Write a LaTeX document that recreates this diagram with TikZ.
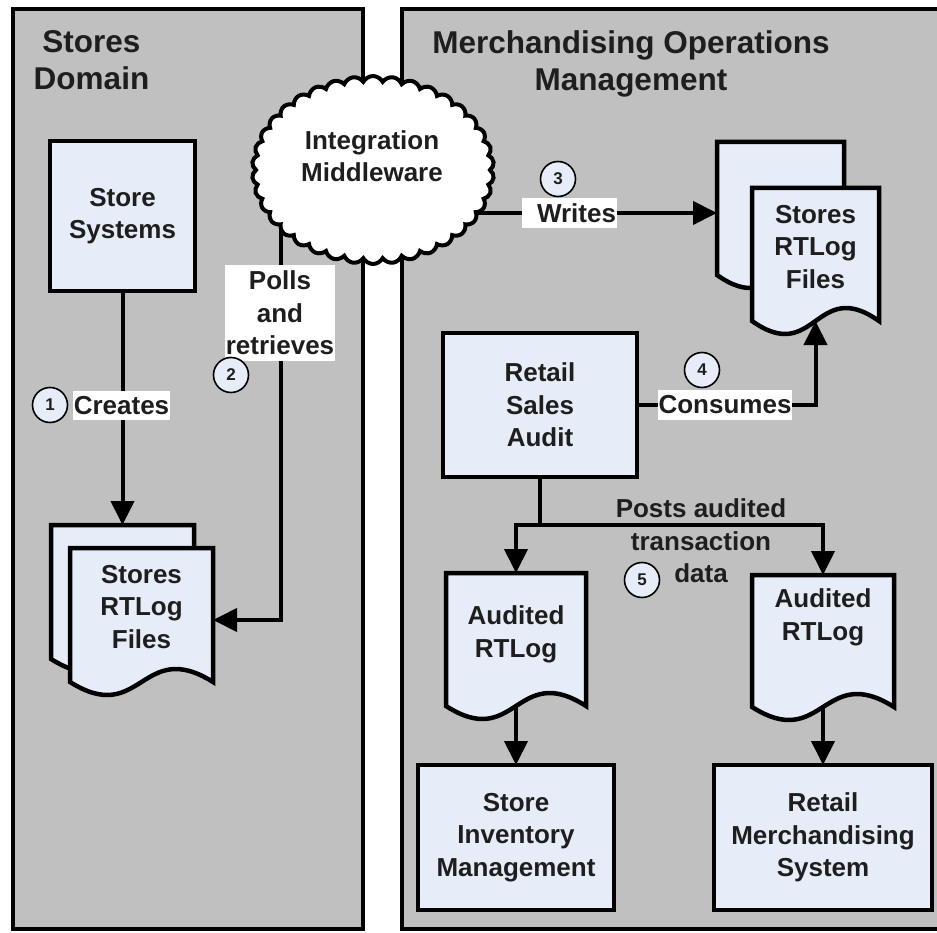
\documentclass[tikz,border=0pt]{standalone}
\usepackage{fontspec}
\setmainfont{Liberation Sans}
\usetikzlibrary{shapes.symbols,arrows.meta,calc}
\definecolor{panelgray}{HTML}{C0C0C0}
\definecolor{boxfill}{HTML}{E7EDF8}
\definecolor{txt}{HTML}{1E1E1E}
\pgfdeclarelayer{back}
\pgfdeclarelayer{mid}
\pgfsetlayers{back,mid,main}
\newcommand{\myBody}{\fontsize{26}{32.5}\selectfont\bfseries}
\newcommand{\myTitle}{\fontsize{31.5}{37}\selectfont\bfseries}
\newcommand{\myNum}{\fontsize{17}{20}\selectfont\bfseries}
\newcommand{\drawdoc}[1]{\draw[docshape] (#1.north west) -- (#1.north east) -- (#1.south east)
  .. controls ($(#1.south)+(0,-45)$) and ($(#1.south)+(0,45)$) .. (#1.south west) -- cycle;}
\begin{document}
\begin{tikzpicture}[x=1pt,y=-1pt,
  panel/.style={draw=black, line width=4.5pt, fill=panelgray},
  box/.style={draw=black, line width=4.5pt, fill=boxfill, inner sep=0pt, outer sep=0pt, font=\myBody, align=center, text=txt},
  docgeo/.style={inner sep=0pt, outer sep=0pt},
  docshape/.style={draw=black, line width=4.5pt, fill=boxfill, line join=miter},
  doctext/.style={font=\myBody, align=center, text=txt, inner sep=0pt},
  conn/.style={line width=4pt, draw=black},
  arr/.style={conn, -{Triangle[length=24pt,width=23pt]}},
  lbl/.style={fill=white, font=\myBody, text=txt, inner xsep=1pt, inner ysep=5.5pt, align=center},
  num/.style={circle, draw=black, line width=1.6pt, fill=boxfill, minimum size=35pt, inner sep=0pt, font=\myNum, text=txt},
  titletext/.style={font=\myTitle, align=center, text=txt, inner sep=0pt}]
\useasboundingbox (0,0) rectangle (937,933);
\begin{pgfonlayer}{back}
  \path[panel] (13,9) rectangle (363,929);
  \path[panel] (402,9) rectangle (947,929);
\end{pgfonlayer}
% titles
\node[titletext] (t1) at (91.5,60.2) {Stores\\Domain};
\node[titletext] (t2) at (631,63.5) {Merchandising Operations\\Management};
% cloud
\node[cloud, draw=black, line width=4pt, fill=white, cloud puffs=38, cloud puff arc=125,
  cloud ignores aspect, minimum width=242pt, minimum height=188pt, inner sep=0pt] (cld) at (373,170) {};
\node[doctext] (cldt) at (372,156) {Integration\\Middleware};
% boxes
\node[box, minimum width=145pt, minimum height=150pt] (ss) at (122.5,216) {Store\\Systems};
\node[box, minimum width=194pt, minimum height=144pt] (rsa) at (540,405) {Retail\\Sales\\Audit};
\node[box, minimum width=196pt, minimum height=145pt] (sim) at (516,837.5) {Store\\Inventory\\Management};
\node[box, minimum width=218pt, minimum height=145pt] (rms) at (823,837.5) {Retail\\Merchandising\\System};
% documents
\node[docgeo, minimum width=143pt, minimum height=134pt] (lsb) at (122.5,592) {};
\drawdoc{lsb}
\node[docgeo, minimum width=143pt, minimum height=134pt] (lsf) at (141.5,615) {};
\drawdoc{lsf}
\node[doctext] (lsft) at (141.5,607) {Stores\\RTLog\\Files};
\node[docgeo, minimum width=127pt, minimum height=133pt] (rsb) at (780.5,208.5) {};
\drawdoc{rsb}
\node[docgeo, minimum width=127pt, minimum height=133pt] (rsf) at (815.5,254.5) {};
\drawdoc{rsf}
\node[doctext] (rsft) at (815.5,247) {Stores\\RTLog\\Files};
\node[docgeo, minimum width=140pt, minimum height=133pt] (ald) at (516,639.5) {};
\drawdoc{ald}
\node[doctext] (aldt) at (516,634.5) {Audited\\RTLog};
\node[docgeo, minimum width=142pt, minimum height=132pt] (ard) at (823,641) {};
\drawdoc{ard}
\node[doctext] (ardt) at (823,617.5) {Audited\\RTLog};
% coordinates for connector ends
\coordinate (pc) at (281,170);
\coordinate (wc) at (373,213);
\coordinate (junc) at (540,525);
% connectors
\begin{pgfonlayer}{mid}
  \draw[arr] (ss.south) -- (lsb.north);
  \draw[arr] (pc) |- ([yshift=-5pt]lsf.east);
  \draw[arr] (wc) -- (wc -| rsb.west);
  \draw[arr] (rsa.east) -| (rsf.south);
  \draw[conn, line cap=rect] (rsa.south) -- (junc);
  \draw[arr] (junc) -| (ald.north);
  \draw[arr] (junc) -| (ard.north);
  \draw[arr] (ald.south) -- (sim.north);
  \draw[arr] (ard.south) -- (rms.north);
\end{pgfonlayer}
% labels
\node[lbl] (lcre) at (121.5,405.5) {Creates};
\node[lbl, inner ysep=6pt] (lpol) at (280,313) {Polls\\and\\retrieves};
\node[lbl] (lwri) at (569.5,213) {\hspace*{14pt}Writes};
\node[lbl] (lcon) at (725,405) {Consumes};
\node[doctext] (lpos) at (701,541) {Posts audited\\transaction\\data};
% step numbers
\node[num] (n1) at (50,405) {1};
\node[num] (n2) at (231,375) {2};
\node[num] (n3) at (558,179) {3};
\node[num] (n4) at (702,370) {4};
\node[num] (n5) at (642,580) {5};
\end{tikzpicture}
\end{document}
